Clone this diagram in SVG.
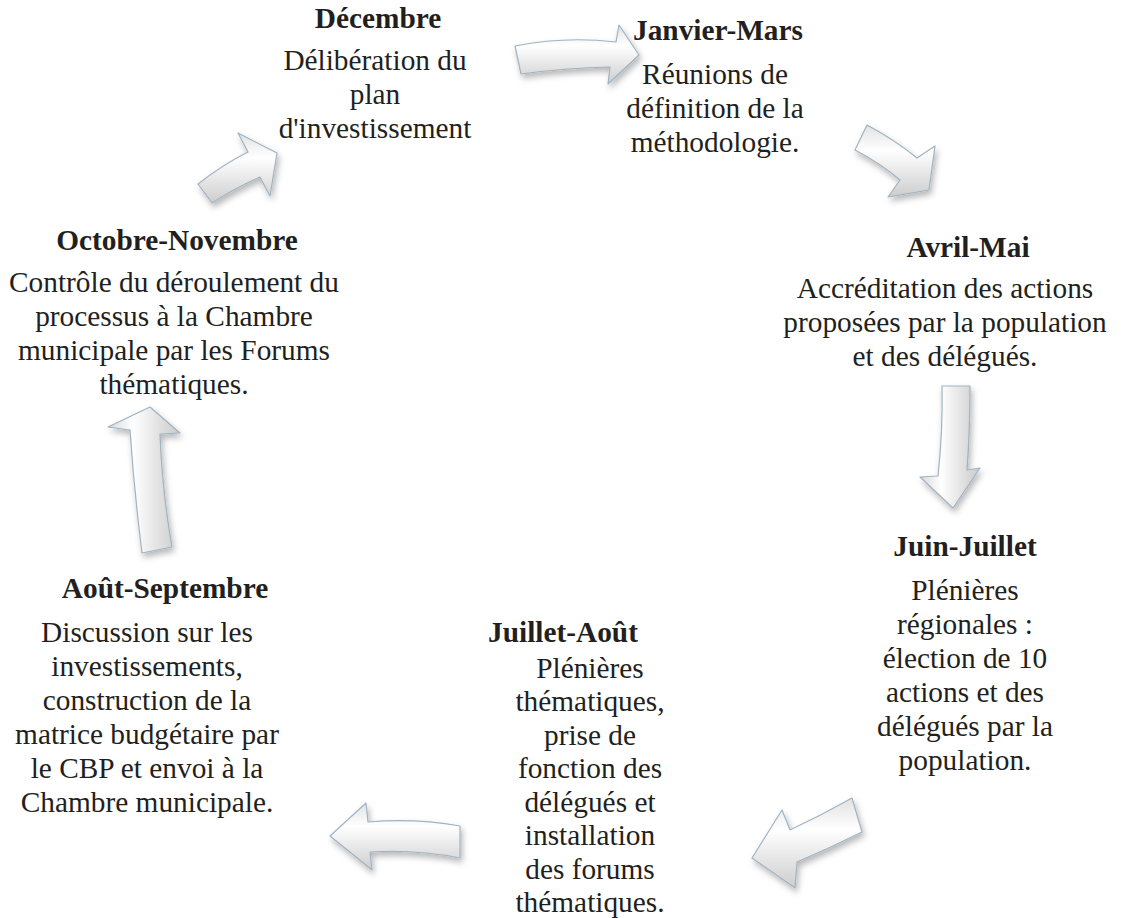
<svg xmlns="http://www.w3.org/2000/svg" width="1122" height="918" viewBox="0 0 1122 918">
<defs>
<style>
.t{font-family:"Liberation Serif","Times New Roman",serif;font-size:29.33px;fill:#231f20;text-anchor:middle}
.b{font-weight:bold}
.arr{stroke:#9fb3c2;stroke-width:1.2;stroke-linejoin:round;filter:url(#sh)}
</style>
<linearGradient id="gv" x1="0" y1="0" x2="1" y2="0">
<stop offset="0" stop-color="#d8d8d8"/><stop offset="0.35" stop-color="#ffffff"/><stop offset="1" stop-color="#c9c9c9"/>
</linearGradient>
<linearGradient id="gh" x1="0" y1="0" x2="0" y2="1">
<stop offset="0" stop-color="#e2e2e2"/><stop offset="0.35" stop-color="#ffffff"/><stop offset="1" stop-color="#cdcdcd"/>
</linearGradient>
<filter id="sh" x="-30%" y="-30%" width="160%" height="160%">
<feGaussianBlur in="SourceAlpha" stdDeviation="3"/>
<feOffset dx="2" dy="4" result="o"/>
<feFlood flood-color="#000" flood-opacity="0.28"/>
<feComposite in2="o" operator="in"/>
<feMerge><feMergeNode/><feMergeNode in="SourceGraphic"/></feMerge>
</filter>
</defs>
<rect width="1122" height="918" fill="#ffffff"/>
<g id="connectors">
<path class="arr" fill="url(#gh)" d="M515,46 Q565,36 616,42 L619,25 L639,55 L608,84 L610,67 Q565,68 521,74 Z"/>
<path class="arr" fill="url(#gh)" d="M867,125 Q895,140 917,158 L935,146 L929,190 L888,197 L900,180 Q880,163 855,150 Z"/>
<path class="arr" fill="url(#gv)" d="M942,386 L970,386 Q970,430 967,470 L980,468 L953,508 L920,477 L938,476 Q943,430 942,386 Z"/>
<path class="arr" fill="url(#gh)" d="M852,798 L862,832 Q830,848 797,862 L795,888 L752,858 L782,810 L790,830 Q822,815 852,798 Z"/>
<path class="arr" fill="url(#gh)" d="M460,826 Q415,818 368,822 L366,803 L330,836 L372,870 L370,852 Q415,849 460,858 Z"/>
<path class="arr" fill="url(#gv)" d="M150,407 L180,433 L160,434 Q162,490 172,547 L142,553 Q134,490 130,430 L108,427 Z"/>
<path class="arr" fill="url(#gh)" d="M198,184 Q222,165 248,152 L238,133 L277,153 L270,196 L260,177 Q235,188 212,203 Z"/>
</g>
<g id="decembre">
<text class="t b" x="378" y="28">Décembre</text>
<text class="t" x="375" y="70">Délibération du</text>
<text class="t" x="375" y="104">plan</text>
<text class="t" x="375" y="138">d'investissement</text>
</g>
<g id="janvier-mars">
<text class="t b" x="718" y="40">Janvier-Mars</text>
<text class="t" x="715" y="84">Réunions de</text>
<text class="t" x="715" y="118">définition de la</text>
<text class="t" x="715" y="152">méthodologie.</text>
</g>
<g id="avril-mai">
<text class="t b" x="968" y="257">Avril-Mai</text>
<text class="t" x="945" y="298">Accréditation des actions</text>
<text class="t" x="945" y="332">proposées par la population</text>
<text class="t" x="945" y="366">et des délégués.</text>
</g>
<g id="juin-juillet">
<text class="t b" x="965" y="556">Juin-Juillet</text>
<text class="t" x="965" y="600">Plénières</text>
<text class="t" x="965" y="634">régionales :</text>
<text class="t" x="965" y="668">élection de 10</text>
<text class="t" x="965" y="702">actions et des</text>
<text class="t" x="965" y="736">délégués par la</text>
<text class="t" x="965" y="770">population.</text>
</g>
<g id="juillet-aout">
<text class="t b" x="563" y="642">Juillet-Août</text>
<text class="t" x="590" y="678">Plénières</text>
<text class="t" x="590" y="711">thématiques,</text>
<text class="t" x="590" y="745">prise de</text>
<text class="t" x="590" y="778">fonction des</text>
<text class="t" x="590" y="812">délégués et</text>
<text class="t" x="590" y="845">installation</text>
<text class="t" x="590" y="879">des forums</text>
<text class="t" x="590" y="912">thématiques.</text>
</g>
<g id="aout-septembre">
<text class="t b" x="165" y="598">Août-Septembre</text>
<text class="t" x="147" y="642">Discussion sur les</text>
<text class="t" x="147" y="676">investissements,</text>
<text class="t" x="147" y="710">construction de la</text>
<text class="t" x="147" y="744">matrice budgétaire par</text>
<text class="t" x="147" y="778">le CBP et envoi à la</text>
<text class="t" x="147" y="812">Chambre municipale.</text>
</g>
<g id="octobre-novembre">
<text class="t b" x="177" y="250">Octobre-Novembre</text>
<text class="t" x="174" y="292">Contrôle du déroulement du</text>
<text class="t" x="174" y="326">processus à la Chambre</text>
<text class="t" x="174" y="360">municipale par les Forums</text>
<text class="t" x="174" y="394">thématiques.</text>
</g>
</svg>
